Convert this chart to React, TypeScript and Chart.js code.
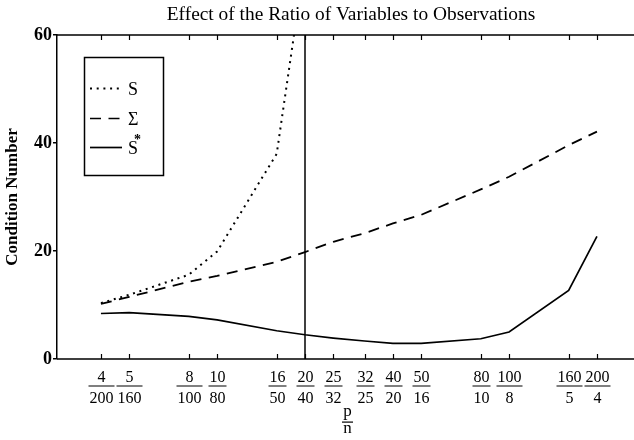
import React, { useEffect, useRef } from "react";
import { Chart, registerables } from "chart.js";

Chart.register(...registerables);

const TITLE = "Effect of the Ratio of Variables to Observations";
const Y_TITLE = "Condition Number";
const X_NUM = "p";
const X_DEN = "n";

const P_VALUES = [4, 5, 8, 10, 16, 20, 25, 32, 40, 50, 80, 100, 160, 200];
const N_VALUES = [200, 160, 100, 80, 50, 40, 32, 25, 20, 16, 10, 8, 5, 4];

const S_VALUES: (number | null)[] = [10.35, 11.9, 15.6, 19.9, 38, 74, null, null, null, null, null, null, null, null];
const SIGMA_VALUES = [10.2, 11.5, 14.3, 15.4, 18.0, 19.8, 21.7, 23.3, 25.1, 26.7, 31.4, 33.75, 39.6, 42.1];
const S_STAR_VALUES = [8.43, 8.6, 7.9, 7.26, 5.23, 4.49, 3.88, 3.33, 2.9, 2.9, 3.75, 4.99, 12.7, 22.7];

const Y_TICKS = [0, 20, 40, 60];
const Y_MIN = 0;
const Y_MAX = 60;
const X_MIN = 0.01;
const X_MAX = 89.7;

const DIVIDER_P = 20;
const DIVIDER_N = 40;

const LEGEND_LABELS = ["S", "\u03A3", "S"];

const FONT = '"Liberation Serif", "Times New Roman", serif';

const RATIOS = P_VALUES.map((p, i) => p / N_VALUES[i]);

function toPoints(vals: (number | null)[]) {
  const pts: { x: number; y: number }[] = [];
  vals.forEach((v, i) => {
    if (v !== null) pts.push({ x: RATIOS[i], y: v });
  });
  return pts;
}

const DOT_DASH = [2, 4.7];
const DASH_DASH = [11, 7.5];

const decorPlugin = {
  id: "decor",
  afterDraw(chart: any) {
    const ctx = chart.ctx as CanvasRenderingContext2D;
    const { left, right, top, bottom } = chart.chartArea;
    const xs = chart.scales.x;
    ctx.save();
    ctx.strokeStyle = "#000";
    ctx.fillStyle = "#000";
    ctx.lineWidth = 1.5;
    ctx.setLineDash([]);

    // top frame line and bottom axis line
    ctx.beginPath();
    ctx.moveTo(left, top);
    ctx.lineTo(right, top);
    ctx.moveTo(left, bottom);
    ctx.lineTo(right, bottom);
    ctx.stroke();

    // inward ticks + fraction labels
    ctx.lineWidth = 1.2;
    ctx.textAlign = "center";
    ctx.textBaseline = "alphabetic";
    ctx.font = `16px ${FONT}`;
    RATIOS.forEach((r, i) => {
      const x = Math.round(xs.getPixelForValue(r)) + 0.5;
      ctx.beginPath();
      ctx.moveTo(x, bottom);
      ctx.lineTo(x, bottom - 5);
      ctx.moveTo(x, top);
      ctx.lineTo(x, top + 5);
      ctx.stroke();
      const num = String(P_VALUES[i]);
      const den = String(N_VALUES[i]);
      ctx.fillText(num, x, bottom + 23);
      ctx.fillText(den, x, bottom + 44);
      const w = Math.max(ctx.measureText(num).width, ctx.measureText(den).width) + 2;
      ctx.fillRect(x - w / 2, bottom + 26.5, w, 1);
    });

    // p / n axis title
    const cx = (left + right) / 2 + 2;
    ctx.font = `17px ${FONT}`;
    ctx.fillText(X_NUM, cx, bottom + 57);
    ctx.fillText(X_DEN, cx, bottom + 74);
    ctx.fillRect(cx - 5.5, bottom + 62.5, 11, 1.2);

    // chart title
    ctx.font = `19.4px ${FONT}`;
    ctx.fillText(TITLE, 351, 20);

    // legend
    ctx.lineWidth = 1.5;
    ctx.strokeRect(84.5, 57.5, 79, 118);
    const rows = [88.5, 118.5, 147.5];
    const dashes = [DOT_DASH, DASH_DASH, []];
    rows.forEach((y, i) => {
      ctx.lineWidth = i === 0 ? 2 : 1.7;
      ctx.setLineDash(dashes[i]);
      ctx.beginPath();
      ctx.moveTo(90, y);
      ctx.lineTo(122, y);
      ctx.stroke();
    });
    ctx.setLineDash([]);
    ctx.textAlign = "left";
    ctx.font = `18px ${FONT}`;
    LEGEND_LABELS.forEach((t, i) => {
      ctx.fillText(t, 128, rows[i] + 6);
    });
    ctx.font = `bold 14px ${FONT}`;
    ctx.fillText("*", 134, rows[2] - 4);
    ctx.restore();
  },
};

export default function App() {
  const ref = useRef<HTMLCanvasElement | null>(null);
  useEffect(() => {
    if (!ref.current) return;
    const line = (vals: (number | null)[], dash: number[], width: number) => ({
      data: toPoints(vals),
      borderColor: "#000",
      backgroundColor: "#000",
      borderWidth: width,
      borderDash: dash,
      borderCapStyle: "butt" as const,
      pointRadius: 0,
      fill: false,
      tension: 0,
    });
    const chart = new Chart(ref.current, {
      type: "line",
      data: {
        datasets: [
          line(S_VALUES, DOT_DASH, 2),
          line(SIGMA_VALUES, DASH_DASH, 1.8),
          line(S_STAR_VALUES, [], 1.7),
          {
            data: [
              { x: DIVIDER_P / DIVIDER_N, y: Y_MIN },
              { x: DIVIDER_P / DIVIDER_N, y: Y_MAX },
            ],
            borderColor: "#000",
            borderWidth: 1.5,
            pointRadius: 0,
            fill: false,
          },
        ],
      },
      options: {
        animation: false,
        responsive: false,
        devicePixelRatio: 1,
        layout: { padding: { top: 35, right: 0, bottom: 0, left: 0 } },
        plugins: {
          legend: { display: false },
          tooltip: { enabled: false },
          title: { display: false },
        },
        scales: {
          x: {
            type: "logarithmic",
            min: X_MIN,
            max: X_MAX,
            grid: { display: false },
            border: { display: false },
            ticks: { display: false },
            afterBuildTicks: (s: any) => {
              s.ticks = RATIOS.map((v) => ({ value: v }));
            },
            afterFit: (s: any) => {
              s.height = 81;
            },
          },
          y: {
            type: "linear",
            min: Y_MIN,
            max: Y_MAX,
            afterBuildTicks: (s: any) => {
              s.ticks = Y_TICKS.map((v) => ({ value: v }));
            },
            ticks: {
              color: "#000",
              padding: 1,
              font: { family: FONT, size: 18, weight: "bold" },
            },
            grid: {
              display: true,
              drawOnChartArea: false,
              drawTicks: true,
              tickLength: 4,
              color: "#000",
              lineWidth: 1.5,
            },
            border: { display: true, color: "#000", width: 1.5 },
            title: {
              display: true,
              text: Y_TITLE,
              color: "#000",
              font: { family: FONT, size: 17, weight: "bold" },
              padding: { top: 2, bottom: 0 },
            },
            afterFit: (s: any) => {
              s.width = 57;
            },
          },
        },
      },
      plugins: [decorPlugin],
    } as any);
    return () => chart.destroy();
  }, []);
  return (
    <div style={{ position: "fixed", left: 0, top: 0, width: 634, height: 440, background: "#fff" }}>
      <canvas ref={ref} width={634} height={440} />
    </div>
  );
}
